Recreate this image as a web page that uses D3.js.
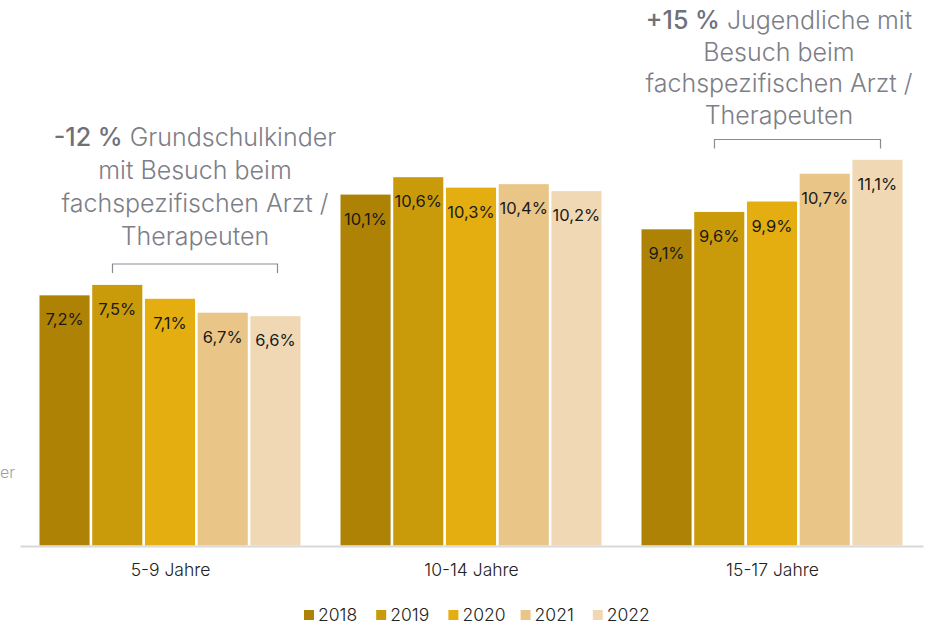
<!DOCTYPE html>
<html><head><meta charset="utf-8">
<script src="https://cdn.jsdelivr.net/npm/d3@7"></script>
<style>
html,body{margin:0;padding:0;background:#fff;}
svg{display:block;font-family:Inter, "Noto Sans", sans-serif;}
</style></head>
<body>
<svg id="c" width="938" height="626"></svg>
<script>
const groups = ["5-9 Jahre", "10-14 Jahre", "15-17 Jahre"];
const years = ["2018", "2019", "2020", "2021", "2022"];
const values5_9 = [7.2, 7.5, 7.1, 6.7, 6.6];
const values10_14 = [10.1, 10.6, 10.3, 10.4, 10.2];
const values15_17 = [9.1, 9.6, 9.9, 10.7, 11.1];
const colors = ["#ae8205", "#c99a0a", "#e4ae10", "#eac588", "#f0d8b5"];
const annLeft = [["-12 %", " Grundschulkinder"], ["", "mit Besuch beim"], ["", "fachspezifischen Arzt /"], ["", "Therapeuten"]];
const annRight = [["+15 %", " Jugendliche mit"], ["", "Besuch beim"], ["", "fachspezifischen Arzt /"], ["", "Therapeuten"]];

const series = [values5_9, values10_14, values15_17];
const svg = d3.select("#c");
const x0 = d3.scaleBand().domain(groups).range([20, 923]).padding(0);
const x1 = d3.scaleBand().domain(years).range([19.5, 280.5]).paddingInner(0.05);
const y = d3.scaleLinear().domain([0, 15.7]).range([545.5, 0]);
const color = d3.scaleOrdinal().domain(years).range(colors);

const g = svg.selectAll("g.grp").data(groups).enter().append("g")
  .attr("transform", d => `translate(${x0(d)},0)`);
g.each(function(gname, gi){
  const data = years.map((yr, i) => ({yr, v: series[gi][i]}));
  const sel = d3.select(this);
  sel.selectAll("rect").data(data).enter().append("rect")
    .attr("x", d => x1(d.yr)).attr("width", x1.bandwidth())
    .attr("y", d => y(d.v)).attr("height", d => y(0) - y(d.v))
    .attr("fill", d => color(d.yr));
  sel.selectAll("text.lbl").data(data).enter().append("text")
    .attr("class","lbl")
    .attr("x", d => x1(d.yr) + x1.bandwidth()/2)
    .attr("y", d => y(d.v) + 30)
    .attr("text-anchor","middle")
    .attr("font-size", 16.5).attr("font-weight", 400).attr("fill", "#1a1a1a")
    .text(d => d3.format(".1f")(d.v).replace(".", ",") + "%");
});

// axis line
const ax = svg.append("g").attr("transform", `translate(0,546)`)
  .call(d3.axisBottom(x0).tickSize(0).tickPadding(18));
ax.select(".domain").attr("stroke", "#d9d9d9").attr("stroke-width", 2);
ax.selectAll("text").attr("font-size", 17.5).attr("font-weight", 300).attr("fill", "#222").attr("font-family","Inter, sans-serif");

// annotations
function annotate(lines, cx, y0, lh, br){
  const t = svg.append("text").attr("text-anchor","middle").attr("font-size", 25).attr("font-weight", 300).attr("fill","#7d7e87");
  lines.forEach((l, i) => {
    const ts = t.append("tspan").attr("x", cx).attr("y", y0 + i*lh);
    if (l[0]) ts.append("tspan").attr("font-weight", 500).attr("fill","#6f7078").text(l[0]);
    ts.append("tspan").text(l[1]);
  });
  svg.append("path").attr("d", `M${br[0]},${br[2]+9}V${br[2]}H${br[1]}V${br[2]+9}`)
    .attr("fill","none").attr("stroke","#8a8b92").attr("stroke-width",1.2);
}
annotate(annLeft, 195, 146, 33, [112.5, 277.5, 264]);
annotate(annRight, 779, 29, 31.7, [714.5, 880.5, 139.5]);

// text partly outside at left edge
svg.append("text").attr("x", 0).attr("y", 478).attr("text-anchor","start")
  .attr("font-size", 16).attr("font-weight", 300).attr("fill","#a0a0a6").text("er");

// legend
const leg = svg.append("g").selectAll("g").data(years).enter().append("g")
  .attr("transform", (d,i) => `translate(${304 + i*72.2},609)`);
leg.append("rect").attr("width", 10).attr("height", 10).attr("y", 1).attr("fill", d => color(d));
leg.append("text").attr("x", 14).attr("y", 12).attr("font-size", 17.5).attr("font-weight", 300).attr("fill","#222").text(d => d);
</script>
</body></html>
